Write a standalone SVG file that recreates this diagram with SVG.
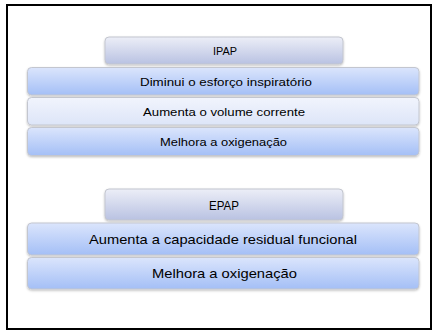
<svg xmlns="http://www.w3.org/2000/svg" width="436" height="331" viewBox="0 0 436 331">
<style>
.t{font-family:"Liberation Sans","Open Sans",Arial,sans-serif;fill:#000;text-anchor:middle;dominant-baseline:central}
.s{font-size:11.5px}
.l{font-size:13.5px}
.box{stroke:#c3c6cf;stroke-width:1;filter:url(#sh)}
</style>
<defs>
<linearGradient id="gh" x1="0" y1="0" x2="0" y2="1">
<stop offset="0" stop-color="#eceef7"/><stop offset="1" stop-color="#b9c2e2"/>
</linearGradient>
<linearGradient id="gb" x1="0" y1="0" x2="0" y2="1">
<stop offset="0" stop-color="#dbe5fc"/><stop offset="1" stop-color="#a4bff6"/>
</linearGradient>
<linearGradient id="gl" x1="0" y1="0" x2="0" y2="1">
<stop offset="0" stop-color="#f1f4fd"/><stop offset="1" stop-color="#dde5f8"/>
</linearGradient>
<filter id="sh" x="-5%" y="-20%" width="110%" height="150%">
<feDropShadow dx="0" dy="1.2" stdDeviation="0.8" flood-color="#000" flood-opacity="0.25"/>
</filter>
</defs>
<rect x="7" y="5" width="424" height="324" fill="#fff" stroke="#000" stroke-width="2"/>
<g id="ipap">
<rect class="box" x="105" y="37" width="238" height="27" rx="4" fill="url(#gh)"/>
<text class="t" x="225" y="51" style="font-size:11px" textLength="24" lengthAdjust="spacingAndGlyphs">IPAP</text>
</g>
<g id="ipap1">
<rect class="box" x="27.5" y="67.5" width="391.5" height="27.5" rx="4" fill="url(#gb)"/>
<text class="t s" x="226" y="82" textLength="172" lengthAdjust="spacingAndGlyphs">Diminui o esforço inspiratório</text>
</g>
<g id="ipap2">
<rect class="box" x="27.5" y="97.5" width="391.5" height="27.5" rx="4" fill="url(#gl)"/>
<text class="t s" x="224" y="112" textLength="162" lengthAdjust="spacingAndGlyphs">Aumenta o volume corrente</text>
</g>
<g id="ipap3">
<rect class="box" x="27.5" y="127.5" width="391.5" height="28" rx="4" fill="url(#gb)"/>
<text class="t s" x="223.5" y="142" textLength="127" lengthAdjust="spacingAndGlyphs">Melhora a oxigenação</text>
</g>
<g id="epap">
<rect class="box" x="105" y="189" width="238" height="31" rx="4" fill="url(#gh)"/>
<text class="t" x="224" y="205" style="font-size:13px" textLength="30" lengthAdjust="spacingAndGlyphs">EPAP</text>
</g>
<g id="epap1">
<rect class="box" x="27.5" y="223" width="391.5" height="32" rx="4" fill="url(#gb)"/>
<text class="t l" x="223" y="239.5" textLength="268" lengthAdjust="spacingAndGlyphs">Aumenta a capacidade residual funcional</text>
</g>
<g id="epap2">
<rect class="box" x="27.5" y="257.5" width="391.5" height="31.5" rx="4" fill="url(#gb)"/>
<text class="t l" x="224.5" y="273.5" textLength="145" lengthAdjust="spacingAndGlyphs">Melhora a oxigenação</text>
</g>
<g id="connectors"/>
</svg>
